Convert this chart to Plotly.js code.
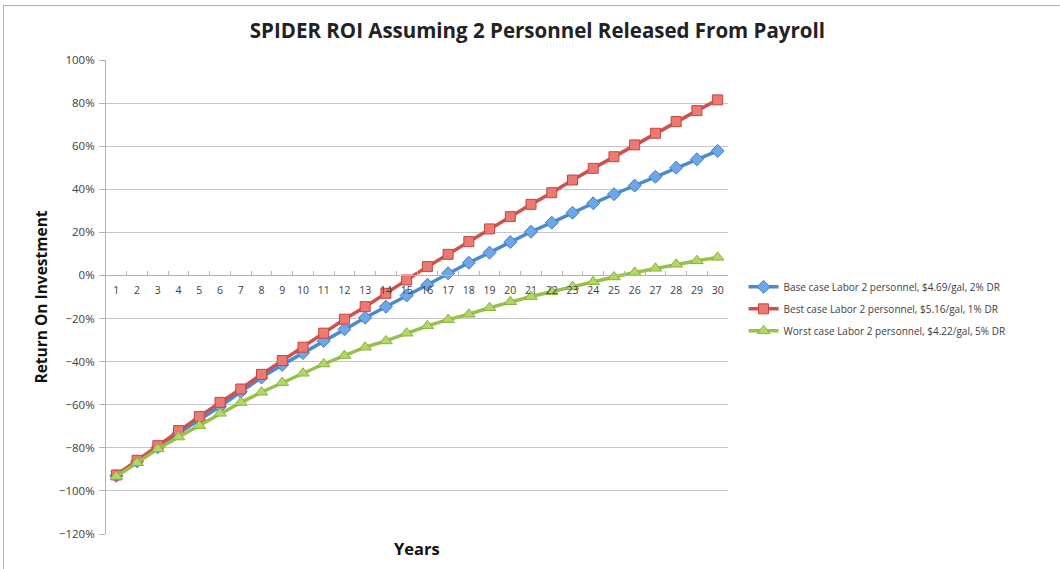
<!DOCTYPE html>
<html>
<head>
<meta charset="utf-8">
<script src="https://cdn.plot.ly/plotly-3.0.1.min.js"></script>
<style>
  html, body { margin: 0; padding: 0; background: #ffffff; }
  #wrap { position: relative; width: 1060px; height: 569px; overflow: hidden; }
  #chart { position: absolute; left: 0; top: 0; width: 1060px; height: 569px; }
  #frame { position: absolute; left: 3px; top: 5px; width: 1070px; height: 580px;
           border-top: 1px solid #b0b0b0; border-left: 1px solid #b0b0b0; pointer-events: none; }
</style>
</head>
<body>
<div id="wrap">
  <div id="chart"></div>
  <div id="frame"></div>
</div>
<script>
// ---- data (values in percent) ----
const years = ['1','2','3','4','5','6','7','8','9','10','11','12','13','14','15',
               '16','17','18','19','20','21','22','23','24','25','26','27','28','29','30'];

const seriesNames = [
  'Base case Labor 2 personnel, $4.69/gal, 2% DR',
  'Best case Labor 2 personnel, $5.16/gal, 1% DR',
  'Worst case Labor 2 personnel, $4.22/gal, 5% DR'
];

const baseCase = [-93, -86.3, -79.7, -73.3, -67, -60.8, -54, -47.4, -41.5, -36,
                  -30.4, -25, -19.6, -14.5, -9.3, -4.4, 1.0, 5.9, 10.6, 15.5,
                  20.3, 24.5, 29.1, 33.5, 37.7, 41.7, 45.8, 50, 53.9, 57.8];

const bestCase = [-92.6, -85.8, -79, -72, -65.5, -58.9, -52.7, -45.9, -39.5, -33.3,
                  -26.8, -20.3, -14.5, -8.3, -2.1, 4.1, 9.8, 15.7, 21.6, 27.3,
                  33, 38.4, 44.3, 49.7, 55.1, 60.6, 66, 71.4, 76.5, 81.5];

const worstCase = [-93.3, -86.9, -80.5, -75, -69.7, -64, -59, -54.2, -49.7, -45.4,
                   -41.1, -37.2, -33.3, -30.4, -26.8, -23.4, -20.5, -18, -15, -12.2,
                   -9.8, -7.6, -5.2, -2.9, -0.7, 1.4, 3.3, 5.2, 6.8, 8.4];

const yRange = [-120, 100];

// ---- traces ----
function mk(name, vals, lineColor, symbol, size, fill, edge) {
  return {
    type: 'scatter', mode: 'lines+markers', name: name,
    x: years, y: vals, legendgroup: name,
    line: { color: lineColor, width: 3.5 },
    marker: { symbol: symbol, size: size, color: fill, line: { color: edge, width: 1 } },
    cliponaxis: false
  };
}

const data = [
  mk(seriesNames[0], baseCase, '#4a8ad0', 'diamond', 10, '#6ea6e6', '#3f7fc4'),
  mk(seriesNames[1], bestCase, '#d0504c', 'square', 10, '#ec7a74', '#c8453f'),
  mk(seriesNames[2], worstCase, '#98c04a', 'triangle-up', 11, '#b0d865', '#8bb13f')
];

const zeroPos = (0 - yRange[0]) / (yRange[1] - yRange[0]);

const layout = {
  width: 1060, height: 569,
  margin: { l: 106, r: 332, t: 60, b: 35 },
  paper_bgcolor: 'rgba(0,0,0,0)',
  plot_bgcolor: '#ffffff',
  font: { family: 'Open Sans, Noto Sans, sans-serif', color: '#404040' },
  title: {
    text: 'SPIDER ROI Assuming 2 Personnel Released From Payroll',
    font: { family: 'Open Sans, sans-serif', size: 20.5, color: '#222222', weight: 'bold' },
    x: 0.507, xanchor: 'center', y: 0.945, yanchor: 'middle'
  },
  showlegend: true,
  legend: {
    x: 1.025, xanchor: 'left', y: 0.552, yanchor: 'top',
    font: { family: 'Open Sans, sans-serif', size: 10, color: '#404040' },
    traceorder: 'grouped', tracegroupgap: 3,
    bgcolor: 'rgba(0,0,0,0)'
  },
  xaxis: {
    type: 'category',
    range: [-0.5, years.length - 0.5], autorange: false,
    anchor: 'free', position: zeroPos,
    showgrid: false, zeroline: false,
    showline: true, linecolor: '#b3b3b3', linewidth: 1,
    ticks: 'inside', tickson: 'boundaries', ticklen: 4, tickcolor: '#b3b3b3',
    tickangle: 0, ticklabelstandoff: 5,
    tickfont: { family: 'Open Sans, sans-serif', size: 10.5, color: '#404040' },
    fixedrange: true
  },
  yaxis: {
    range: yRange, dtick: 20, tick0: 0,
    ticksuffix: '%',
    showgrid: true, gridcolor: '#c6c6c6', gridwidth: 1,
    zeroline: false,
    showline: true, linecolor: '#b3b3b3', linewidth: 1,
    ticks: 'outside', ticklen: 6, tickcolor: '#b3b3b3',
    ticklabelstandoff: 2,
    tickfont: { family: 'Open Sans, sans-serif', size: 11.5, color: '#404040' },
    title: { text: 'Return On Investment', standoff: 7,
             font: { family: 'Open Sans, sans-serif', size: 15.5, color: '#111111', weight: 'bold' } },
    fixedrange: true
  },
  annotations: [
    { text: 'Years', xref: 'paper', yref: 'paper', x: 0.5, y: -0.002, yanchor: 'top', xanchor: 'center',
      showarrow: false, font: { family: 'Open Sans, sans-serif', size: 16.5, color: '#111111', weight: 'bold' } }
  ]
};

Plotly.newPlot('chart', data, layout, { staticPlot: true, displayModeBar: false });
</script>
</body>
</html>
